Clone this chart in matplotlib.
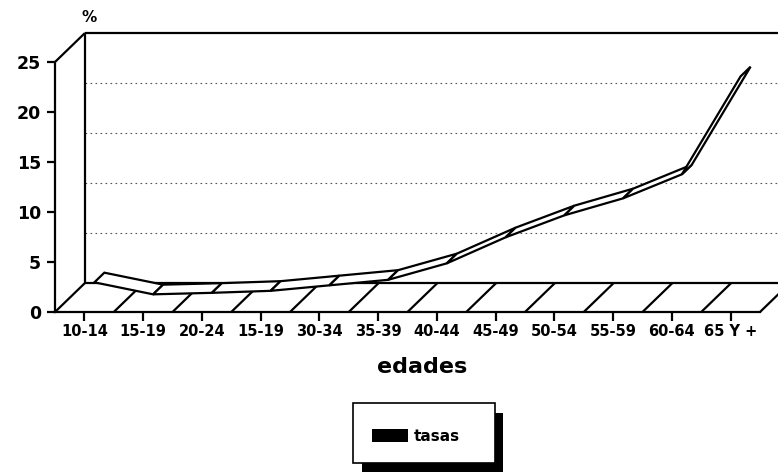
import matplotlib
matplotlib.use("Agg")
import matplotlib.pyplot as plt
from matplotlib.patches import Polygon, Rectangle

# data
edades = ["10-14", "15-19", "20-24", "15-19", "30-34", "35-39",
          "40-44", "45-49", "50-54", "55-59", "60-64", "65 Y +"]
tasas = [2.0, 0.8, 0.95, 1.15, 1.7, 2.25, 3.9, 6.5, 8.7, 10.4, 12.8, 22.6]
yticks = [0, 5, 10, 15, 20, 25]

# oblique depth of the fake 3D box (data units: categories, %)
DX, DY = 0.51, 2.9
W = 778.0
H = 473.0

plt.rcParams["font.family"] = ["DejaVu Sans"]
plt.rcParams["font.weight"] = "bold"

fig = plt.figure(figsize=(W / 100, H / 100), dpi=100)
ax = fig.add_axes([55 / W, 161 / H, 705 / W, 250 / H])
n = len(edades)
ax.set_xlim(-0.5, n - 0.5)
ax.set_ylim(0, 25)

for s in ("top", "right"):
    ax.spines[s].set_visible(False)
for s in ("left", "bottom"):
    ax.spines[s].set_linewidth(1.6)
    ax.spines[s].set_zorder(5)

ax.set_xticks(range(n))
ax.set_xticklabels(edades, fontsize=10.5, fontweight="bold")
ax.set_yticks(yticks)
ax.set_yticklabels([str(t) for t in yticks], fontsize=12.5, fontweight="bold")
ax.tick_params(axis="x", direction="out", length=6.5, width=1.6, pad=2.5)
ax.tick_params(axis="y", direction="out", length=6, width=1.6, pad=4)

ax.set_xlabel("edades", fontsize=16, fontweight="bold")
ax.xaxis.set_label_coords((422 - 55) / 705, -0.18)

line_kw = dict(color="black", lw=1.6, clip_on=False, solid_capstyle="butt")
x0 = -0.5
x1 = n - 0.5

# back wall
ax.plot([x0, x0 + DX], [25, 25 + DY], **line_kw)
ax.plot([x0 + DX, x0 + DX], [DY, 25 + DY], **line_kw)
ax.plot([x0 + DX, x1 + DX], [25 + DY, 25 + DY], **line_kw)
for t in yticks[1:-1]:
    ax.plot([x0 + DX, x1 + DX], [t + DY, t + DY], color="#555555", lw=0.8,
            ls=(0, (1.5, 3)), clip_on=False, zorder=1)

# floor
ax.plot([x0 + DX, x1 + DX], [DY, DY], **line_kw)
for k in range(n + 1):
    ax.plot([k - 0.5, k - 0.5 + DX], [0, DY], **line_kw)

# the ribbon, sitting in the middle third of the depth
for i in range(n - 1):
    pts = [(i + DX / 3, tasas[i] + DY / 3),
           (i + 1 + DX / 3, tasas[i + 1] + DY / 3),
           (i + 1 + 2 * DX / 3, tasas[i + 1] + 2 * DY / 3),
           (i + 2 * DX / 3, tasas[i] + 2 * DY / 3)]
    ax.add_patch(Polygon(pts, closed=True, facecolor="white", edgecolor="black",
                         lw=1.6, zorder=4, clip_on=False))

fig.text(89 / W, 1 - 17 / H, "%", fontsize=11, fontweight="bold",
         ha="center", va="center")

# legend box with a heavy drop shadow
fig.add_artist(Rectangle((362 / W, 1 - 472 / H), 141 / W, 59 / H,
                         transform=fig.transFigure, facecolor="black",
                         edgecolor="none"))
fig.add_artist(Rectangle((353 / W, 1 - 463 / H), 142 / W, 60 / H,
                         transform=fig.transFigure, facecolor="white",
                         edgecolor="black", lw=1.2))
fig.add_artist(Rectangle((372 / W, 1 - 442 / H), 36 / W, 13 / H,
                         transform=fig.transFigure, facecolor="black",
                         edgecolor="none"))
fig.text(414 / W, 1 - 436 / H, "tasas", fontsize=11, fontweight="bold",
         ha="left", va="center")

fig.savefig("out.png", dpi=100)
